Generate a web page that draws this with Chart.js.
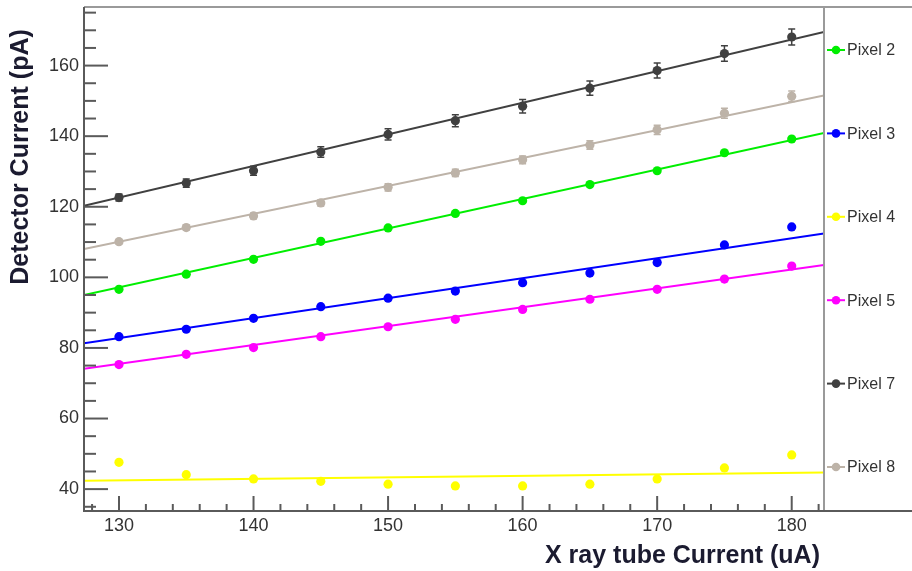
<!DOCTYPE html>
<html>
<head>
<meta charset="utf-8">
<title>Detector Current vs X ray tube Current</title>
<script src="https://cdn.jsdelivr.net/npm/chart.js@4.4.1/dist/chart.umd.min.js"></script>
<style>
  html, body { margin: 0; padding: 0; background: #fff; }
  #wrap { width: 912px; height: 571px; }
</style>
</head>
<body>
<div id="wrap"><canvas id="scanChart" width="912" height="571"></canvas></div>
<script>
// Tube current settings (uA)
const tubeCurrent = [130, 135, 140, 145, 150, 155, 160, 165, 170, 175, 180];

// Measured detector current per pixel (pA)
const pixel2 = [96.6, 100.9, 105.1, 110.2, 114.0, 118.1, 121.7, 126.3, 130.2, 135.3, 139.2];
const pixel3 = [83.2, 85.3, 88.4, 91.7, 94.1, 96.1, 98.5, 101.2, 104.2, 109.2, 114.3];
const pixel4 = [47.6, 44.1, 42.9, 42.2, 41.4, 40.9, 40.9, 41.4, 42.9, 46.0, 49.7];
const pixel5 = [75.3, 78.2, 80.1, 83.2, 86.0, 88.1, 90.9, 93.8, 96.6, 99.5, 103.2];
const pixel7 = [122.6, 126.7, 130.2, 135.5, 140.5, 144.4, 148.5, 153.6, 158.6, 163.4, 168.1];
const pixel8 = [110.1, 114.1, 117.4, 121.1, 125.5, 129.6, 133.3, 137.5, 141.8, 146.5, 151.3];

// Errors on the two brightest pixels
const err7 = [1.0, 1.2, 1.3, 1.5, 1.6, 1.7, 1.9, 2.0, 2.1, 2.2, 2.3];
const err8 = [0.6, 0.7, 0.8, 0.9, 1.0, 1.0, 1.1, 1.2, 1.3, 1.4, 1.5];

// Linear fits, evaluated at both ends of the x range
const fitRange = [127.4, 182.4];
const fit2 = [95.0, 140.9];
const fit3 = [81.3, 112.4];
const fit4 = [42.4, 44.7];
const fit5 = [74.1, 103.5];
const fit7 = [120.3, 169.5];
const fit8 = [108.0, 151.5];

// Axis ranges and labelled ticks
const xRange = [127.4, 182.4];
const yRange = [33.8, 176.6];
const xLabels = [130, 140, 150, 160, 170, 180];
const yLabels = [40, 60, 80, 100, 120, 140, 160];

const series = [
  { label: 'Pixel 2', color: '#00ee00', values: pixel2, errors: null, fit: fit2 },
  { label: 'Pixel 3', color: '#0000ff', values: pixel3, errors: null, fit: fit3 },
  { label: 'Pixel 4', color: '#ffff00', values: pixel4, errors: null, fit: fit4 },
  { label: 'Pixel 5', color: '#ff00ff', values: pixel5, errors: null, fit: fit5 },
  { label: 'Pixel 7', color: '#404040', values: pixel7, errors: err7, fit: fit7 },
  { label: 'Pixel 8', color: '#bdb3a8', values: pixel8, errors: err8, fit: fit8 }
];

const FONT = '"Liberation Sans", Arial, Helvetica, sans-serif';
const AXIS_COLOR = '#5a5a5a';
const TITLE_COLOR = '#1b1b30';

// Build datasets: one line for each fit, one set of markers for each pixel
const datasets = [];
series.forEach(s => {
  datasets.push({
    type: 'line',
    label: s.label + ' fit',
    data: fitRange.map((x, i) => ({ x: x, y: s.fit[i] })),
    borderColor: s.color,
    borderWidth: 2,
    pointRadius: 0,
    fill: false,
    tension: 0
  });
  datasets.push({
    type: 'scatter',
    label: s.label,
    data: tubeCurrent.map((x, i) => ({ x: x, y: s.values[i] })),
    errors: s.errors,
    backgroundColor: s.color,
    borderColor: s.color,
    borderWidth: 0,
    pointRadius: 4.6,
    showLine: false
  });
});

// Frame lines and inward tick marks
const framePlugin = {
  id: 'frame',
  afterDraw(chart) {
    const ctx = chart.ctx;
    const area = chart.chartArea;
    const xs = chart.scales.x;
    const ys = chart.scales.y;
    const W = chart.width;
    ctx.save();
    ctx.lineCap = 'butt';

    // top border and legend separator
    ctx.strokeStyle = '#9a9a9a';
    ctx.lineWidth = 2;
    ctx.beginPath();
    ctx.moveTo(area.left, area.top);
    ctx.lineTo(W, area.top);
    ctx.moveTo(area.right, area.top);
    ctx.lineTo(area.right, area.bottom);
    ctx.stroke();

    // axes
    ctx.strokeStyle = AXIS_COLOR;
    ctx.beginPath();
    ctx.moveTo(area.left, area.top);
    ctx.lineTo(area.left, area.bottom);
    ctx.lineTo(W, area.bottom);
    ctx.stroke();

    // y ticks
    ys.ticks.forEach(t => {
      const py = ys.getPixelForValue(t.value);
      const len = yLabels.includes(t.value) ? 24 : 12;
      ctx.beginPath();
      ctx.moveTo(area.left, py);
      ctx.lineTo(area.left + len, py);
      ctx.stroke();
    });

    // x ticks
    xs.ticks.forEach(t => {
      const px = xs.getPixelForValue(t.value);
      const len = xLabels.includes(t.value) ? 15 : 7;
      ctx.beginPath();
      ctx.moveTo(px, area.bottom);
      ctx.lineTo(px, area.bottom - len);
      ctx.stroke();
    });
    ctx.restore();
  }
};

// Vertical error bars from the errors array of each marker dataset
const errorBarPlugin = {
  id: 'errorBars',
  afterDatasetsDraw(chart) {
    const ctx = chart.ctx;
    const ys = chart.scales.y;
    ctx.save();
    chart.data.datasets.forEach((ds, i) => {
      if (!ds.errors) return;
      const meta = chart.getDatasetMeta(i);
      ctx.strokeStyle = ds.borderColor;
      ctx.lineWidth = 1.5;
      meta.data.forEach((pt, j) => {
        const v = ds.data[j].y;
        const e = ds.errors[j];
        const top = ys.getPixelForValue(v + e);
        const bot = ys.getPixelForValue(v - e);
        ctx.beginPath();
        ctx.moveTo(pt.x, top);
        ctx.lineTo(pt.x, bot);
        ctx.moveTo(pt.x - 3.5, top);
        ctx.lineTo(pt.x + 3.5, top);
        ctx.moveTo(pt.x - 3.5, bot);
        ctx.lineTo(pt.x + 3.5, bot);
        ctx.stroke();
      });
    });
    ctx.restore();
  }
};

// Legend panel on the right and the two axis titles
const panelPlugin = {
  id: 'panel',
  afterDraw(chart) {
    const ctx = chart.ctx;
    const area = chart.chartArea;
    ctx.save();

    series.forEach((s, i) => {
      const cy = 50 + i * 83.4;
      ctx.strokeStyle = s.color;
      ctx.lineWidth = 2;
      ctx.beginPath();
      ctx.moveTo(area.right + 3, cy);
      ctx.lineTo(area.right + 21, cy);
      ctx.stroke();
      ctx.fillStyle = s.color;
      ctx.beginPath();
      ctx.arc(area.right + 12, cy, 4.3, 0, Math.PI * 2);
      ctx.fill();
      ctx.fillStyle = '#333';
      ctx.font = '16px ' + FONT;
      ctx.textAlign = 'left';
      ctx.textBaseline = 'middle';
      ctx.fillText(s.label, area.right + 23, cy + 1);
    });

    ctx.fillStyle = TITLE_COLOR;
    ctx.font = 'bold 25px ' + FONT;
    ctx.textBaseline = 'middle';

    ctx.textAlign = 'right';
    ctx.fillText('X ray tube Current (uA)', 820, 556);

    ctx.translate(21, 157);
    ctx.rotate(-Math.PI / 2);
    ctx.textAlign = 'center';
    ctx.fillText('Detector Current (pA)', 0, 0);
    ctx.restore();
  }
};

const tickFont = { family: FONT, size: 18 };

new Chart(document.getElementById('scanChart'), {
  data: { datasets: datasets },
  options: {
    responsive: false,
    animation: false,
    devicePixelRatio: 1,
    layout: { padding: { top: 7, right: 88, left: 0, bottom: 0 } },
    plugins: {
      legend: { display: false },
      tooltip: { enabled: false }
    },
    scales: {
      x: {
        type: 'linear',
        min: xRange[0],
        max: xRange[1],
        grid: { display: false, drawTicks: false },
        border: { display: false },
        ticks: {
          stepSize: 2,
          includeBounds: false,
          autoSkip: false,
          maxRotation: 0,
          minRotation: 0,
          padding: 4,
          color: '#333',
          font: tickFont,
          callback: v => xLabels.includes(v) ? String(v) : ''
        },
        afterFit(scale) {
          scale.height = 60;
          scale.paddingLeft = 0;
          scale.paddingRight = 0;
        }
      },
      y: {
        type: 'linear',
        min: yRange[0],
        max: yRange[1],
        grid: { display: false, drawTicks: false },
        border: { display: false },
        ticks: {
          stepSize: 5,
          includeBounds: false,
          autoSkip: false,
          padding: 5,
          color: '#333',
          font: tickFont,
          callback: v => yLabels.includes(v) ? String(v) : ''
        },
        afterFit(scale) {
          scale.width = 84;
          scale.paddingTop = 0;
          scale.paddingBottom = 0;
        }
      }
    }
  },
  plugins: [framePlugin, errorBarPlugin, panelPlugin]
});
</script>
</body>
</html>
